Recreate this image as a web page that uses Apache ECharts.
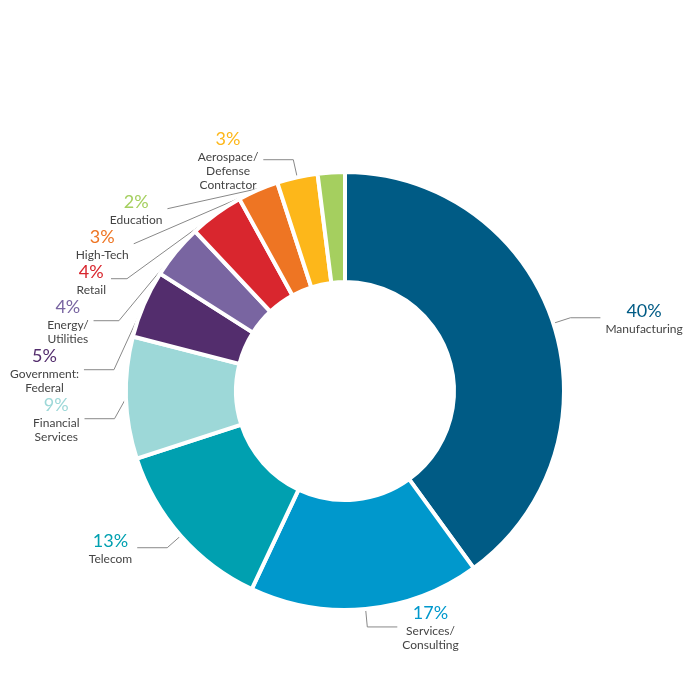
<!DOCTYPE html>
<html><head><meta charset="utf-8">
<script src="https://cdn.jsdelivr.net/npm/echarts@6/dist/echarts.min.js"></script>
<style>html,body{margin:0;background:#fff}#c{width:695px;height:680px}</style>
</head><body><div id="c"></div>
<script>
const names = ['Manufacturing','Services/\nConsulting','Telecom','Financial\nServices','Government:\nFederal','Energy/\nUtilities','Retail','High-Tech','Aerospace/\nDefense\nContractor','Education'];
const values = [40,17,13,9,5,4,4,3,3,2];
const colors = ['#005b85','#0098cc','#00a0b0','#9dd8d8','#532d6d','#7965a1','#d9262e','#ee7523','#fdb71a','#a5cf5f'];
const data = names.map((n,i)=>({name:n,value:values[i],itemStyle:{color:colors[i]},
  label:{rich:{p:{color:colors[i],fontSize:18,lineHeight:22,align:'center'},n:{color:'#444',fontSize:12,lineHeight:14,align:'center'}}}}));
const chart = echarts.init(document.getElementById('c'));
chart.setOption({
  animation:false,
  series:[{type:'pie',center:[345,391],radius:[109,219],startAngle:90,clockwise:true,
    itemStyle:{borderColor:'#fff',borderWidth:4},
    label:{show:true,fontFamily:'Lato, sans-serif',formatter:p=>'{p|'+p.value+'%}\n{n|'+p.name.split('\n').join('}\n{n|')+'}'},
    labelLine:{show:true,length:18,length2:30,lineStyle:{color:'#888',width:1}},
    data:data}]
});
</script></body></html>
